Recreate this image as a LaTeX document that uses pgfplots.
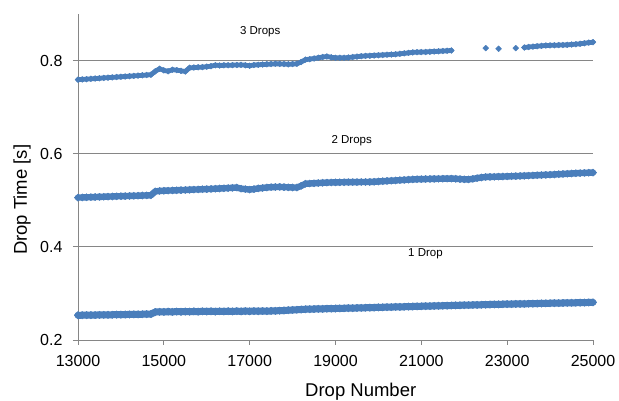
\documentclass[border=0pt]{standalone}
\usepackage{pgfplots}
\pgfplotsset{compat=1.18}
\usepackage{pgfplotstable}
\usepackage{fontspec}
\setmainfont{Liberation Sans}
\definecolor{dropblue}{RGB}{74,126,187}
\definecolor{axgray}{RGB}{134,134,134}

\pgfplotstableread{
x a b c
13000 0.2530 0.5058 0.7589
13100 0.2532 0.5061 0.7595
13200 0.2533 0.5064 0.7601
13300 0.2535 0.5067 0.7608
13400 0.2536 0.5070 0.7614
13500 0.2538 0.5073 0.7620
13600 0.2539 0.5076 0.7627
13700 0.2541 0.5079 0.7633
13800 0.2542 0.5082 0.7639
13900 0.2544 0.5085 0.7646
14000 0.2545 0.5088 0.7652
14100 0.2547 0.5090 0.7658
14200 0.2548 0.5093 0.7664
14300 0.2550 0.5096 0.7671
14400 0.2551 0.5099 0.7677
14500 0.2553 0.5102 0.7683
14600 0.2555 0.5105 0.7690
14700 0.2557 0.5108 0.7696
14800 0.2600 0.5190 0.7770
14900 0.2605 0.5201 0.7824
15000 0.2603 0.5205 0.7790
15100 0.2608 0.5208 0.7770
15200 0.2604 0.5212 0.7803
15300 0.2610 0.5215 0.7795
15400 0.2606 0.5219 0.7780
15500 0.2611 0.5222 0.7766
15600 0.2608 0.5226 0.7845
15700 0.2613 0.5230 0.7850
15800 0.2609 0.5233 0.7855
15900 0.2615 0.5237 0.7860
16000 0.2612 0.5240 0.7868
16100 0.2616 0.5244 0.7880
16200 0.2611 0.5249 0.7900
16300 0.2617 0.5253 0.7895
16400 0.2613 0.5257 0.7898
16500 0.2618 0.5262 0.7900
16600 0.2614 0.5268 0.7902
16700 0.2619 0.5273 0.7905
16800 0.2615 0.5250 0.7908
16900 0.2620 0.5240 0.7900
17000 0.2616 0.5230 0.7890
17100 0.2621 0.5240 0.7905
17200 0.2617 0.5255 0.7910
17300 0.2623 0.5265 0.7915
17400 0.2619 0.5275 0.7920
17500 0.2624 0.5282 0.7925
17600 0.2626 0.5285 0.7930
17700 0.2630 0.5287 0.7928
17800 0.2634 0.5283 0.7926
17900 0.2640 0.5278 0.7920
18000 0.2645 0.5275 0.7925
18100 0.2650 0.5273 0.7930
18200 0.2655 0.5310 0.7970
18300 0.2660 0.5355 0.8020
18400 0.2662 0.5360 0.8030
18500 0.2665 0.5365 0.8045
18600 0.2667 0.5370 0.8060
18700 0.2670 0.5375 0.8075
18800 0.2672 0.5380 0.8088
18900 0.2674 0.5382 0.8070
19000 0.2676 0.5385 0.8060
19100 0.2678 0.5386 0.8060
19200 0.2681 0.5388 0.8060
19300 0.2683 0.5389 0.8065
19400 0.2685 0.5390 0.8075
19500 0.2688 0.5391 0.8085
19600 0.2690 0.5392 0.8093
19700 0.2693 0.5393 0.8100
19800 0.2695 0.5394 0.8105
19900 0.2697 0.5398 0.8110
20000 0.2700 0.5404 0.8115
20100 0.2702 0.5410 0.8120
20200 0.2705 0.5415 0.8125
20300 0.2707 0.5421 0.8130
20400 0.2710 0.5426 0.8135
20500 0.2712 0.5432 0.8145
20600 0.2714 0.5437 0.8155
20700 0.2717 0.5443 0.8165
20800 0.2719 0.5448 0.8175
20900 0.2722 0.5452 0.8180
21000 0.2724 0.5454 0.8182
21100 0.2727 0.5456 0.8185
21200 0.2729 0.5458 0.8190
21300 0.2731 0.5460 0.8195
21400 0.2734 0.5462 0.8200
21500 0.2736 0.5464 0.8205
21600 0.2738 0.5465 0.8210
21700 0.2741 0.5466 0.8217
21800 0.2743 0.5462 nan
21900 0.2745 0.5455 nan
22000 0.2748 0.5450 nan
22100 0.2750 0.5448 nan
22200 0.2752 0.5460 nan
22300 0.2755 0.5475 nan
22400 0.2757 0.5490 nan
22500 0.2759 0.5500 0.8267
22600 0.2762 0.5503 nan
22700 0.2764 0.5505 nan
22800 0.2766 0.5508 0.8252
22900 0.2768 0.5510 nan
23000 0.2770 0.5513 nan
23100 0.2772 0.5516 nan
23200 0.2774 0.5519 0.8267
23300 0.2776 0.5522 nan
23400 0.2777 0.5526 0.8280
23500 0.2779 0.5530 0.8292
23600 0.2781 0.5534 0.8300
23700 0.2783 0.5538 0.8308
23800 0.2785 0.5542 0.8316
23900 0.2787 0.5546 0.8324
24000 0.2789 0.5550 0.8326
24100 0.2791 0.5555 0.8329
24200 0.2793 0.5560 0.8332
24300 0.2795 0.5565 0.8335
24400 0.2797 0.5570 0.8338
24500 0.2799 0.5575 0.8345
24600 0.2800 0.5580 0.8352
24700 0.2802 0.5584 0.8360
24800 0.2804 0.5588 0.8372
24900 0.2806 0.5592 0.8385
25000 0.2808 0.5595 0.8394
}\droptable

\begin{document}
\begin{tikzpicture}
\useasboundingbox (0,0) rectangle (619pt,401pt);
\begin{axis}[
  at={(78pt,61pt)}, anchor=south west,
  scale only axis, width=515pt, height=326pt,
  xmin=13000, xmax=25000, ymin=0.2, ymax=0.9,
  xtick={13000,15000,17000,19000,21000,23000,25000},
  scaled x ticks=false,
  ytick={0.2,0.4,0.6,0.8},
  axis lines*=left,
  axis line style={axgray, line width=0.8pt},
  tick align=outside, major tick length=5pt,
  tick style={axgray, line width=0.8pt},
  ymajorgrids, grid style={axgray, line width=0.8pt},
  /pgf/number format/assume math mode=true,
  tick label style={font=\fontsize{16}{19}\selectfont},
  x tick label style={/pgf/number format/set thousands separator={}, yshift=-7pt},
  y tick label style={/pgf/number format/fixed, /pgf/number format/fixed zerofill, /pgf/number format/precision=1, xshift=-7pt},
  xlabel={Drop Number}, ylabel={Drop Time [s]},
  label style={font=\fontsize{18.5}{22}\selectfont},
  xlabel style={at={(axis description cs:0.549,-0.172)}, anchor=base},
  ylabel style={at={(axis description cs:-0.1087,0.430)}, anchor=center},
  unbounded coords=jump,
  clip=false,
]
\addplot[dropblue, line width=7pt, line cap=round, line join=round, mark=square*, mark size=2.7pt, mark options={rotate=45, line width=0.4pt}] table[x=x, y=a] {\droptable};
\addplot[dropblue, line width=6.4pt, line cap=round, line join=round, mark=square*, mark size=2.6pt, mark options={rotate=45, line width=0.4pt}] table[x=x, y=b] {\droptable};
\addplot[dropblue, line width=4.8pt, line cap=round, line join=round, mark=square*, mark size=2.1pt, mark options={rotate=45, line width=0.4pt}] table[x=x, y=c] {\droptable};
\node[font=\fontsize{11.5}{14}\selectfont] at (axis cs:17245,0.8624) {3 Drops};
\node[font=\fontsize{11.5}{14}\selectfont] at (axis cs:19378,0.6272) {2 Drops};
\node[font=\fontsize{11.5}{14}\selectfont] at (axis cs:21097,0.3858) {1 Drop};
\end{axis}
\end{tikzpicture}
\end{document}
